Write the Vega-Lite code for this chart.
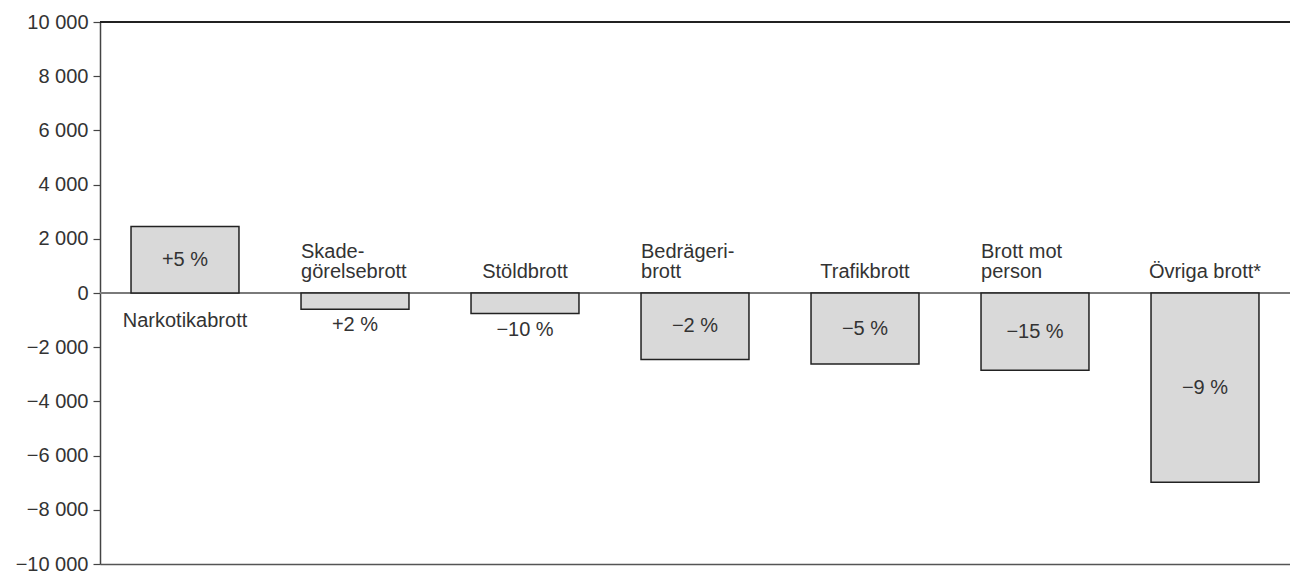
{
  "$schema": "https://vega.github.io/schema/vega-lite/v6.json",
  "width": 1190,
  "height": 542,
  "autosize": {"type": "none"},
  "padding": {"left": 100, "top": 22, "right": 0, "bottom": 7},
  "background": "white",
  "config": {"view": {"stroke": null}, "font": "Liberation Sans"},
  "data": {
    "values": [
      {"cat": "Narkotikabrott", "line1": "", "line2": "Narkotikabrott", "value": 2450, "pct": "+5 %"},
      {"cat": "Skadegörelsebrott", "line1": "Skade-", "line2": "görelsebrott", "value": -600, "pct": "+2 %"},
      {"cat": "Stöldbrott", "line1": "", "line2": "Stöldbrott", "value": -760, "pct": "−10 %"},
      {"cat": "Bedrägeribrott", "line1": "Bedrägeri-", "line2": "brott", "value": -2450, "pct": "−2 %"},
      {"cat": "Trafikbrott", "line1": "", "line2": "Trafikbrott", "value": -2620, "pct": "−5 %"},
      {"cat": "Brott mot person", "line1": "Brott mot", "line2": "person", "value": -2850, "pct": "−15 %"},
      {"cat": "Övriga brott", "line1": "", "line2": "Övriga brott*", "value": -6980, "pct": "−9 %"}
    ]
  },
  "layer": [
    {
      "mark": {"type": "rule", "color": "#222", "strokeWidth": 1.5},
      "encoding": {"y": {"datum": 10000, "type": "quantitative", "title": null}}
    },
    {
      "mark": {"type": "rule", "color": "#7a7a7a", "strokeWidth": 2},
      "encoding": {"y": {"datum": 0, "type": "quantitative", "title": null}}
    },
    {
      "mark": {"type": "bar", "fill": "#d9d9d9", "stroke": "#222", "strokeWidth": 1.5},
      "encoding": {
        "x": {"field": "cat", "type": "nominal", "sort": null,
          "scale": {"paddingInner": 0.365, "paddingOuter": 0.1825},
          "axis": {"title": null, "labels": false, "ticks": false, "domainColor": "#555", "domainWidth": 1.5}},
        "y": {"field": "value", "type": "quantitative", "title": null,
          "scale": {"domain": [-10000, 10000], "nice": false, "zero": false},
          "axis": {"title": null, "grid": false, "values": [-10000, -8000, -6000, -4000, -2000, 0, 2000, 4000, 6000, 8000, 10000],
            "tickSize": 7, "labelPadding": 5, "labelFontSize": 20, "labelColor": "#333",
            "domainColor": "#444", "domainWidth": 1.5, "tickColor": "#444", "tickWidth": 1.2,
            "labelExpr": "replace(format(datum.value, ','), ',', ' ')"}}
      }
    },
    {
      "transform": [{"filter": "abs(datum.value) >= 1500"}, {"calculate": "datum.value / 2", "as": "mid"}],
      "mark": {"type": "text", "fontSize": 20, "color": "#333", "baseline": "middle"},
      "encoding": {
        "x": {"field": "cat", "type": "nominal", "sort": null},
        "y": {"field": "mid", "type": "quantitative", "title": null},
        "text": {"field": "pct"}
      }
    },
    {
      "transform": [{"filter": "abs(datum.value) < 1500"}],
      "mark": {"type": "text", "fontSize": 20, "color": "#333", "baseline": "top", "dy": 6},
      "encoding": {
        "x": {"field": "cat", "type": "nominal", "sort": null},
        "y": {"field": "value", "type": "quantitative", "title": null},
        "text": {"field": "pct"}
      }
    },
    {
      "transform": [{"filter": "datum.value < 0 && datum.line1 == ''"}],
      "mark": {"type": "text", "fontSize": 20, "color": "#333", "baseline": "alphabetic", "dy": -15},
      "encoding": {
        "x": {"field": "cat", "type": "nominal", "sort": null},
        "y": {"datum": 0, "type": "quantitative", "title": null},
        "text": {"field": "line2"}
      }
    },
    {
      "transform": [{"filter": "datum.value < 0 && datum.line1 != ''"}],
      "mark": {"type": "text", "fontSize": 20, "color": "#333", "baseline": "alphabetic", "align": "left", "dy": -15},
      "encoding": {
        "x": {"field": "cat", "type": "nominal", "sort": null, "bandPosition": 0},
        "y": {"datum": 0, "type": "quantitative", "title": null},
        "text": {"field": "line2"}
      }
    },
    {
      "transform": [{"filter": "datum.value < 0 && datum.line1 != ''"}],
      "mark": {"type": "text", "fontSize": 20, "color": "#333", "baseline": "alphabetic", "align": "left", "dy": -35},
      "encoding": {
        "x": {"field": "cat", "type": "nominal", "sort": null, "bandPosition": 0},
        "y": {"datum": 0, "type": "quantitative", "title": null},
        "text": {"field": "line1"}
      }
    },
    {
      "transform": [{"filter": "datum.value > 0"}],
      "mark": {"type": "text", "fontSize": 20, "color": "#333", "baseline": "top", "dy": 18},
      "encoding": {
        "x": {"field": "cat", "type": "nominal", "sort": null},
        "y": {"datum": 0, "type": "quantitative", "title": null},
        "text": {"field": "line2"}
      }
    }
  ]
}
